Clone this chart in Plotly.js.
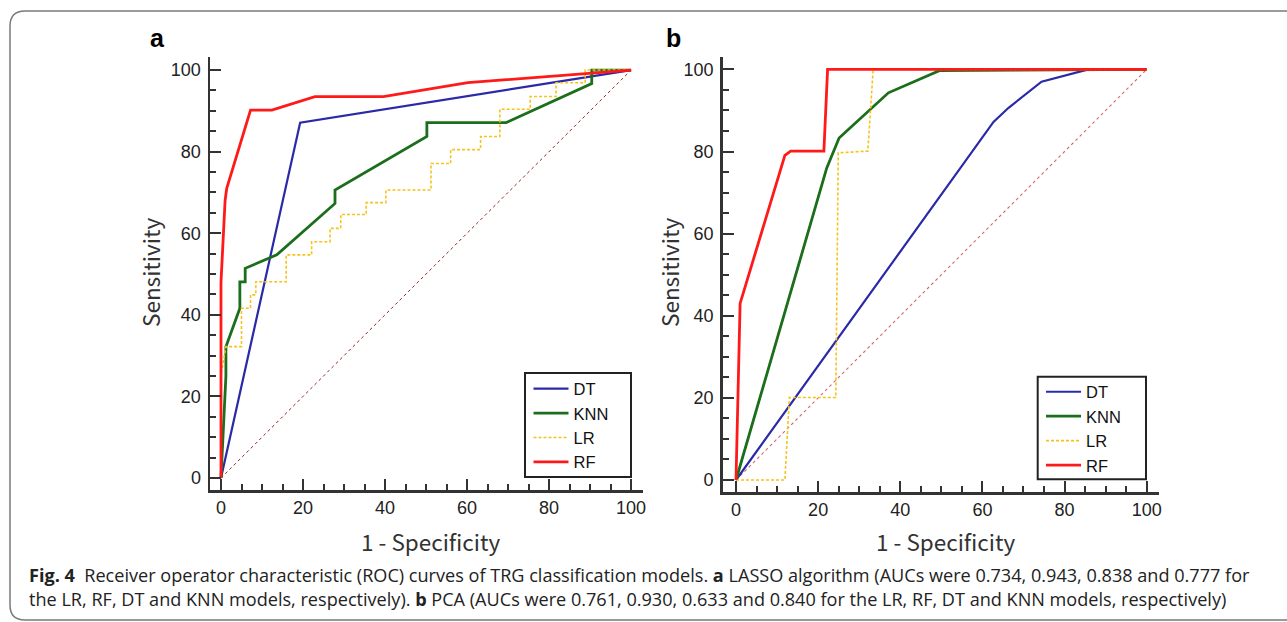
<!DOCTYPE html>
<html>
<head>
<meta charset="utf-8">
<script src="https://cdn.plot.ly/plotly-3.0.1.min.js"></script>
<style>html,body{margin:0;padding:0;background:#fff;}#chart{width:1287px;height:622px;}</style>
</head>
<body>
<div id="chart"></div>
<script>
// ---------- Panel a (LASSO) ----------
const a_DT_x  = [0, 19.3, 100];
const a_DT_y  = [0, 87.1, 100];
const a_KNN_x = [0, 1.2, 1.2, 4.6, 4.6, 5.9, 5.9, 13.6, 27.8, 27.8, 50.2, 50.2, 69.5, 90.4, 90.4, 100];
const a_KNN_y = [0, 25, 32.2, 41.6, 48.1, 48.1, 51.4, 54.7, 67.3, 70.6, 83.7, 87.1, 87.1, 96.7, 100, 100];
const a_LR_x  = [0, 0, 1.2, 5.0, 5.0, 7.2, 7.2, 8.5, 8.5, 15.9, 15.9, 22.1, 22.1, 26.6, 26.6, 29.2, 29.2, 35.4, 35.4, 40.2, 40.2, 51.2, 51.2, 56.0, 56.0, 63.3, 63.3, 68.0, 68.0, 75.4, 75.4, 81.7, 81.7, 88.8, 88.8, 100];
const a_LR_y  = [0, 25.2, 32.2, 32.2, 41.6, 41.6, 44.9, 44.9, 48.1, 48.1, 54.7, 54.7, 57.9, 57.9, 61.2, 61.2, 64.6, 64.6, 67.5, 67.5, 70.6, 70.6, 77.1, 77.1, 80.5, 80.5, 83.7, 83.7, 90.4, 90.4, 93.5, 93.5, 96.9, 96.9, 100, 100];
const a_RF_x  = [0, 0, 0.6, 1.0, 1.4, 7.2, 12.4, 22.9, 39.6, 60.2, 100];
const a_RF_y  = [0, 48, 60, 68, 71, 90.2, 90.2, 93.5, 93.5, 96.9, 100];

// ---------- Panel b (PCA) ----------
const b_DT_x  = [0, 62.7, 66.3, 74.4, 85.8, 100];
const b_DT_y  = [0, 87.2, 90.6, 97.0, 100, 100];
const b_KNN_x = [0, 22.1, 25.1, 37.1, 49.5, 100];
const b_KNN_y = [0, 76.0, 83.3, 94.3, 99.7, 100];
const b_LR_x  = [0, 11.9, 13.0, 24.3, 24.9, 32.1, 33.4, 100];
const b_LR_y  = [0, 0, 20.1, 20.1, 79.7, 80.1, 100, 100];
const b_RF_x  = [0, 1.0, 11.9, 13.3, 21.4, 22.3, 100];
const b_RF_y  = [0, 43.0, 79.1, 80.1, 80.1, 100, 100];

const diagX = [0, 100];
const diagY = [0, 100];

const names = ['DT', 'KNN', 'LR', 'RF'];
const tickVals = [0, 20, 40, 60, 80, 100];
const tickText = ['0', '20', '40', '60', '80', '100'];

const captionLines = [
  '<b>Fig. 4</b>  Receiver operator characteristic (ROC) curves of TRG classification models. <b>a</b> LASSO algorithm (AUCs were 0.734, 0.943, 0.838 and 0.777 for',
  'the LR, RF, DT and KNN models, respectively). <b>b</b> PCA (AUCs were 0.761, 0.930, 0.633 and 0.840 for the LR, RF, DT and KNN models, respectively)'
];

const W = 1287, H = 622;
const px = v => v / W;
const py = v => 1 - v / H;

const styles = {
  DT:  {color: '#2a2aa8', width: 2.2},
  KNN: {color: '#1b6e1b', width: 2.8},
  LR:  {color: '#f7c21a', width: 1.6, dash: '3px,2px'},
  RF:  {color: '#ff1a1a', width: 2.8}
};

function tr(x, y, name, xa, ya, leg) {
  return {x: x, y: y, name: name, mode: 'lines', type: 'scatter', xaxis: xa, yaxis: ya,
          legend: leg, line: Object.assign({shape: 'linear'}, styles[name]), hoverinfo: 'skip'};
}

const data = [
  {x: diagX, y: diagY, mode: 'lines', xaxis: 'x', yaxis: 'y', showlegend: false,
   line: {color: '#8b2a2a', width: 1, dash: 'dot'}, hoverinfo: 'skip'},
  {x: diagX, y: diagY, mode: 'lines', xaxis: 'x2', yaxis: 'y2', showlegend: false,
   line: {color: '#d06a6a', width: 1.1, dash: 'dot'}, hoverinfo: 'skip'},
  tr(a_DT_x, a_DT_y, names[0], 'x', 'y', 'legend'),
  tr(a_KNN_x, a_KNN_y, names[1], 'x', 'y', 'legend'),
  tr(a_LR_x, a_LR_y, names[2], 'x', 'y', 'legend'),
  tr(a_RF_x, a_RF_y, names[3], 'x', 'y', 'legend'),
  tr(b_DT_x, b_DT_y, names[0], 'x2', 'y2', 'legend2'),
  tr(b_KNN_x, b_KNN_y, names[1], 'x2', 'y2', 'legend2'),
  tr(b_LR_x, b_LR_y, names[2], 'x2', 'y2', 'legend2'),
  tr(b_RF_x, b_RF_y, names[3], 'x2', 'y2', 'legend2')
];

const tickFont = {family: 'Liberation Sans, Arial, sans-serif', size: 18, color: '#222'};
function axis(domain, range, extra) {
  return Object.assign({
    domain: domain, range: range, showgrid: false, zeroline: false,
    showline: true, linecolor: '#333', linewidth: 2.5, mirror: false,
    ticks: 'inside', ticklen: 11, tickwidth: 2, tickcolor: '#333',
    tickmode: 'array', tickvals: tickVals, ticktext: tickText,
    tickfont: tickFont, fixedrange: true,
    minor: {dtick: 5, tick0: 0, ticks: 'inside', ticklen: 6, tickwidth: 2, tickcolor: '#333', showgrid: false}
  }, extra || {});
}

const legFont = {family: 'Liberation Sans, Arial, sans-serif', size: 16.5, color: '#111'};
const titleFont = {family: 'Noto Sans CJK SC, Noto Sans, sans-serif', size: 22.5, color: '#333'};
const capFont = {family: 'Open Sans, Noto Sans, sans-serif', size: 18.1, color: '#222'};

function ann(text, x, y, font, extra) {
  return Object.assign({text: text, x: px(x), y: py(y), xref: 'paper', yref: 'paper',
    xanchor: 'center', yanchor: 'middle', showarrow: false, font: font}, extra || {});
}

function box(x0, y0, x1, y1) {
  return {type: 'rect', xref: 'paper', yref: 'paper', x0: px(x0), x1: px(x1), y0: py(y1), y1: py(y0),
          line: {color: '#222', width: 2}, fillcolor: 'rgba(0,0,0,0)', layer: 'above'};
}

const layout = {
  width: W, height: H,
  margin: {l: 0, r: 0, t: 0, b: 0},
  paper_bgcolor: '#fff', plot_bgcolor: '#fff',
  showlegend: true,
  xaxis:  axis([px(210), px(643)], [-2.68, 102.9], {anchor: 'y'}),
  yaxis:  axis([py(490), py(57)], [-2.94, 103.2], {anchor: 'x', ticklabelstandoff: 3}),
  xaxis2: axis([px(722.7), px(1159)], [-3.24, 103.0], {anchor: 'y2'}),
  yaxis2: axis([py(492), py(56.7)], [-2.92, 103.1], {anchor: 'x2', ticklabelstandoff: 3}),
  legend:  {x: px(528.5), y: py(371.4), xanchor: 'left', yanchor: 'top', bgcolor: 'rgba(0,0,0,0)',
            borderwidth: 0, font: legFont, tracegroupgap: 0, itemwidth: 35},
  legend2: {x: px(1041), y: py(374.5), xanchor: 'left', yanchor: 'top', bgcolor: 'rgba(0,0,0,0)',
            borderwidth: 0, font: legFont, tracegroupgap: 0, itemwidth: 35},
  annotations: [
    ann('<b>a</b>', 157, 38, {family: 'Liberation Sans, Arial, sans-serif', size: 25, color: '#000'}),
    ann('<b>b</b>', 673, 38, {family: 'Liberation Sans, Arial, sans-serif', size: 25, color: '#000'}),
    ann('Sensitivity', 150, 273, titleFont, {textangle: -90}),
    ann('Sensitivity', 669, 273, titleFont, {textangle: -90}),
    ann('1 - Specificity', 431, 541, titleFont),
    ann('1 - Specificity', 946, 541, titleFont),
    ann(captionLines.join('<br>'), 27, 587, capFont, {xanchor: 'left', align: 'left'})
  ],
  shapes: [
    {type: 'path', xref: 'paper', yref: 'paper', layer: 'below',
     path: 'M ' + px(1287) + ',' + py(620) + ' L ' + px(25) + ',' + py(620) +
           ' Q ' + px(10) + ',' + py(620) + ' ' + px(10) + ',' + py(605) +
           ' L ' + px(10) + ',' + py(26) + ' Q ' + px(10) + ',' + py(11) + ' ' + px(25) + ',' + py(11) +
           ' L ' + px(1287) + ',' + py(11),
     line: {color: '#7a7a7a', width: 1.5}},
    box(525, 373, 631, 477),
    box(1037.7, 376.7, 1146, 479.3)
  ]
};

Plotly.newPlot('chart', data, layout, {displayModeBar: false, staticPlot: true});
</script>
</body>
</html>
